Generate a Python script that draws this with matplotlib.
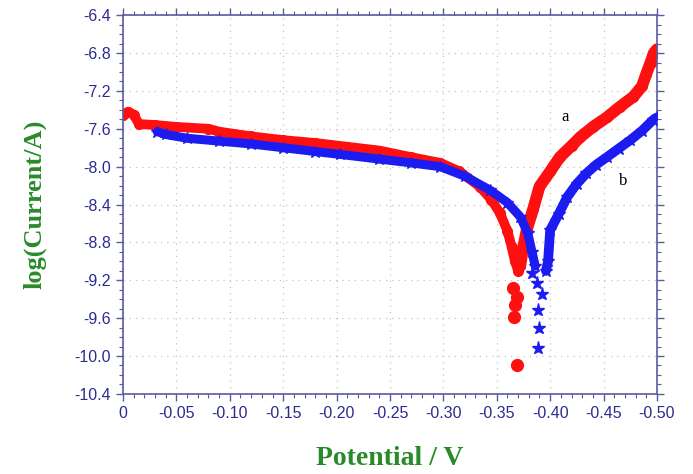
import matplotlib.pyplot as plt
from matplotlib.ticker import MultipleLocator, FuncFormatter

# curve a (red circles) - cathodic branch, loose points near Ecorr, anodic branch
a_cath_v = [0.000, -0.005, -0.010, -0.015, -0.030, -0.050, -0.080, -0.090, -0.120, -0.150,
            -0.180, -0.210, -0.240, -0.270, -0.297, -0.315, -0.334, -0.345, -0.353,
            -0.360, -0.364, -0.367, -0.370]
a_cath_i = [-7.45, -7.42, -7.45, -7.55, -7.56, -7.58, -7.60, -7.63, -7.68, -7.72,
            -7.75, -7.79, -7.83, -7.90, -7.96, -8.05, -8.21, -8.35, -8.49,
            -8.68, -8.85, -9.00, -9.10]
a_tail_v = [-0.365, -0.369, -0.367, -0.366, -0.369]
a_tail_i = [-9.28, -9.38, -9.46, -9.59, -10.10]
a_anod_v = [-0.372, -0.374, -0.378, -0.384, -0.390, -0.400, -0.409, -0.420, -0.428,
            -0.440, -0.453, -0.465, -0.478, -0.486, -0.490, -0.494, -0.497, -0.500]
a_anod_i = [-9.05, -8.90, -8.67, -8.45, -8.21, -8.05, -7.90, -7.78, -7.69,
            -7.58, -7.48, -7.37, -7.26, -7.15, -7.02, -6.90, -6.80, -6.76]

# curve b (blue stars)
b_cath_v = [-0.032, -0.040, -0.060, -0.090, -0.120, -0.150, -0.180, -0.203, -0.240,
            -0.270, -0.297, -0.320, -0.344, -0.360, -0.372, -0.379, -0.383, -0.386]
b_cath_i = [-7.63, -7.66, -7.70, -7.73, -7.76, -7.80, -7.84, -7.87, -7.92,
            -7.96, -8.00, -8.10, -8.25, -8.38, -8.53, -8.70, -8.90, -9.05]
b_tail_v = [-0.383, -0.388, -0.392, -0.389, -0.390, -0.389]
b_tail_i = [-9.12, -9.23, -9.35, -9.51, -9.70, -9.91]
b_anod_v = [-0.396, -0.398, -0.400, -0.408, -0.416, -0.425, -0.434, -0.443, -0.453,
            -0.464, -0.475, -0.486, -0.496, -0.500]
b_anod_i = [-9.10, -9.00, -8.67, -8.50, -8.32, -8.18, -8.07, -7.98, -7.90,
            -7.81, -7.72, -7.62, -7.51, -7.48]

red = '#ff1010'
blue = '#1c1cf0'
axis_col = '#5a5aa0'
label_col = '#2a8a2a'

fig = plt.figure(figsize=(6.93, 4.74), dpi=100)
ax = fig.add_axes([0.1775, 0.169, 0.7705, 0.799])

# dense scans drawn as thick bands with markers on top
ax.plot(a_cath_v, a_cath_i, '-', color=red, lw=7, solid_capstyle='round', solid_joinstyle='round', zorder=2)
ax.plot(a_anod_v, a_anod_i, '-', color=red, lw=8.5, solid_capstyle='round', solid_joinstyle='round', zorder=2)
ax.plot(a_cath_v + a_anod_v, a_cath_i + a_anod_i, 'o', color=red, ms=7, ls='none', zorder=2)
ax.plot(a_tail_v, a_tail_i, 'o', color=red, ms=8.5, zorder=2)

ax.plot(b_cath_v, b_cath_i, '-', color=blue, lw=6.5, solid_capstyle='round', solid_joinstyle='round', zorder=3)
ax.plot(b_anod_v, b_anod_i, '-', color=blue, lw=7, solid_capstyle='round', solid_joinstyle='round', zorder=3)
ax.plot(b_cath_v + b_anod_v, b_cath_i + b_anod_i, '*', color=blue, ms=9, ls='none', zorder=3)
ax.plot(b_tail_v, b_tail_i, '*', color=blue, ms=9.5, zorder=3)

ax.text(-0.414, -7.48, 'a', family='Liberation Serif', fontsize=12, ha='center', va='center')
ax.text(-0.468, -8.15, 'b', family='Liberation Serif', fontsize=12, ha='center', va='center')

ax.set_xlim(0, -0.5)
ax.set_ylim(-10.4, -6.4)
ax.xaxis.set_major_locator(MultipleLocator(0.05))
ax.xaxis.set_minor_locator(MultipleLocator(0.01))
ax.yaxis.set_major_locator(MultipleLocator(0.4))
ax.yaxis.set_minor_locator(MultipleLocator(0.1))
ax.xaxis.set_major_formatter(FuncFormatter(lambda x, p: '0' if abs(x) < 1e-9 else f'{x:.2f}'))
ax.yaxis.set_major_formatter(FuncFormatter(lambda y, p: f'{y:.1f}'))

for s in ax.spines.values():
    s.set_color(axis_col)
    s.set_linewidth(1.2)
ax.tick_params(which='both', colors=axis_col, labelcolor='#2c2c90', labelsize=11.5,
               top=True, right=True, direction='out')
ax.tick_params(which='major', length=5, width=1)
ax.tick_params(which='minor', length=3, width=0.8)
ax.tick_params(axis='x', which='both', top=True, direction='inout')
ax.tick_params(axis='x', which='both', bottom=True, direction='out')
for lab in ax.get_xticklabels() + ax.get_yticklabels():
    lab.set_family('Liberation Sans')

ax.grid(True, which='major', color='#c4c4c4', ls=(0, (1, 4)), lw=0.9)
ax.set_axisbelow(True)

ax.set_xlabel('Potential / V', family='Liberation Serif', fontweight='bold',
              fontsize=20, color=label_col, labelpad=18)
ax.set_ylabel('log(Current/A)', family='Liberation Serif', fontweight='bold',
              fontsize=19, color=label_col, labelpad=20)

fig.savefig('out.png', dpi=100)
